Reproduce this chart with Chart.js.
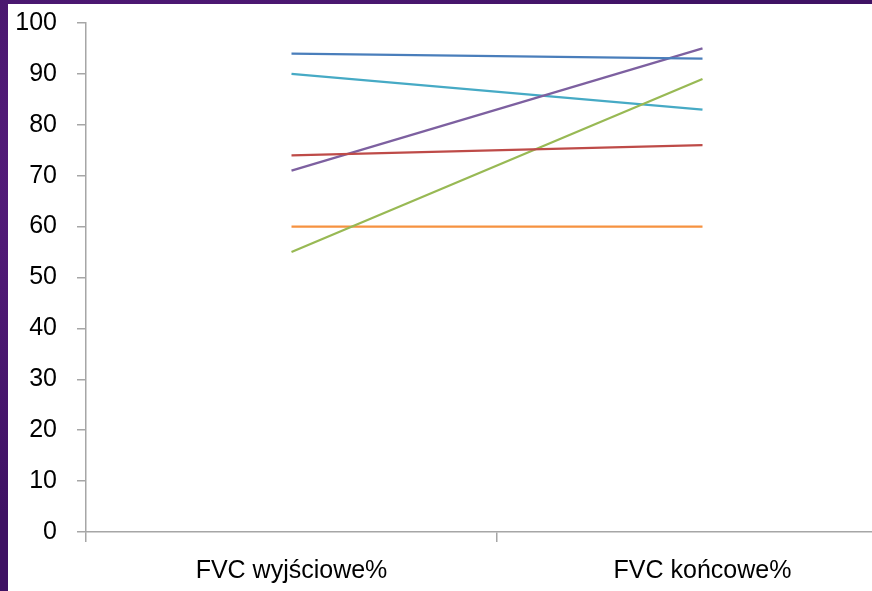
<!DOCTYPE html>
<html>
<head>
<meta charset="utf-8">
<script src="https://cdn.jsdelivr.net/npm/chart.js@4/dist/chart.umd.min.js"></script>
<style>
  html, body { margin: 0; padding: 0; width: 872px; height: 591px; overflow: hidden; }
  body {
    background:
      radial-gradient(ellipse at 20% 30%, rgba(110,40,150,0.55), rgba(0,0,0,0) 60%),
      radial-gradient(ellipse at 80% 70%, rgba(90,20,130,0.5), rgba(0,0,0,0) 60%),
      #3f1264;
    position: relative;
  }
  #panel { position: absolute; left: 8px; top: 4px; width: 910px; height: 587px; background: #ffffff; }
  canvas { display: block; }
</style>
</head>
<body>
<div id="panel"><canvas id="chart" width="910" height="587"></canvas></div>
<script>
// Categories on the x axis
const categories = ['FVC wyjściowe%', 'FVC końcowe%'];

// One line per patient: value before and after
const seriesBlue   = [94, 93];
const seriesRed    = [74, 76];
const seriesGreen  = [55, 89];
const seriesPurple = [71, 95];
const seriesAqua   = [90, 83];
const seriesOrange = [60, 60];

// Y axis scale
const yMin = 0;
const yMax = 100;
const yStep = 10;

const lineSet = [
  { name: 'Seria 1', values: seriesBlue,   color: '#4A7EBB' },
  { name: 'Seria 2', values: seriesRed,    color: '#BE4B48' },
  { name: 'Seria 3', values: seriesGreen,  color: '#98B954' },
  { name: 'Seria 4', values: seriesPurple, color: '#7D60A0' },
  { name: 'Seria 5', values: seriesAqua,   color: '#46AAC5' },
  { name: 'Seria 6', values: seriesOrange, color: '#F69240' }
];

const axisColor = '#A6A6A6';
const font = { family: '"Liberation Sans", Arial, sans-serif', size: 25 };

new Chart(document.getElementById('chart'), {
  type: 'line',
  data: {
    labels: categories,
    datasets: lineSet.map(s => ({
      label: s.name,
      data: s.values,
      borderColor: s.color,
      backgroundColor: s.color,
      borderWidth: 2.25,
      pointRadius: 0,
      tension: 0,
      fill: false
    }))
  },
  options: {
    responsive: false,
    animation: false,
    layout: { padding: { top: 0, right: 10, left: 0, bottom: 0 } },
    plugins: { legend: { display: false }, tooltip: { enabled: false } },
    scales: {
      x: {
        offset: true,
        border: { display: true, color: axisColor, width: 1.5 },
        grid: { display: true, drawOnChartArea: false, offset: true, tickLength: 10, color: axisColor, lineWidth: 1.5 },
        ticks: { color: '#000000', font: font, padding: 14, maxRotation: 0 },
        afterFit: s => { s.height = 59; }
      },
      y: {
        min: yMin,
        max: yMax,
        border: { display: true, color: axisColor, width: 1.5 },
        grid: { display: true, drawOnChartArea: false, tickLength: 9, color: axisColor, lineWidth: 1.5 },
        ticks: { stepSize: yStep, color: '#000000', font: font, padding: 20 },
        afterFit: s => { s.width = 78; s.paddingTop = 19; s.paddingBottom = 0; }
      }
    }
  }
});
</script>
</body>
</html>
